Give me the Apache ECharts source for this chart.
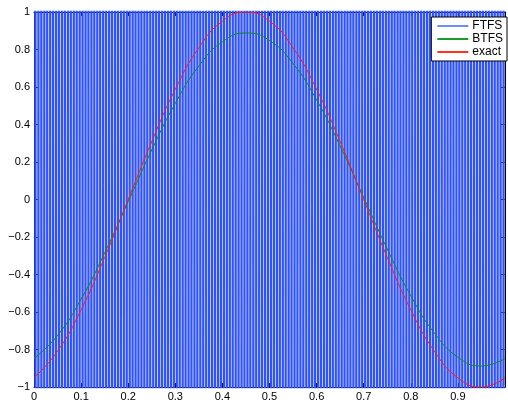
<!DOCTYPE html>
<html>
<head>
<meta charset="utf-8">
<script src="https://cdn.jsdelivr.net/npm/echarts@6/dist/echarts.min.js"></script>
<style>
  html, body { margin: 0; padding: 0; background: #fff; }
  #main { width: 508px; height: 402px; }
</style>
</head>
<body>
<div id="main"></div>
<script>
// x positions of the smooth curves (every 0.05)
var xCurve = [0, 0.05, 0.1, 0.15, 0.2, 0.25, 0.3, 0.35, 0.4, 0.45, 0.5,
  0.55, 0.6, 0.65, 0.7, 0.75, 0.8, 0.85, 0.9, 0.95, 1];
var btfs = [-0.848, -0.725, -0.531, -0.285, -0.011, 0.264, 0.513, 0.712, 0.841, 0.888, 0.848,
  0.725, 0.531, 0.285, 0.011, -0.264, -0.513, -0.712, -0.841, -0.888, -0.848];
var exact = [-0.951, -0.809, -0.588, -0.309, 0.0, 0.309, 0.588, 0.809, 0.951, 1.0, 0.951,
  0.809, 0.588, 0.309, 0.0, -0.309, -0.588, -0.809, -0.951, -1.0, -0.951];

// FTFS blows up: it jumps between huge values at every grid point (dx = 1/160)
var ftfsStep = 1 / 160;
var ftfs = [
  50, -50, 50, -50, 50, -50, 50, -50, 50, -50,
  50, -50, 50, -50, 50, -50, 50, -50, 50, -50,
  50, -50, 50, -50, 50, -50, 50, -50, 50, -50,
  50, -50, 50, -50, 50, -50, 50, -50, 50, -50,
  50, -50, 50, -50, 50, -50, 50, -50, 50, -50,
  50, -50, 50, -50, 50, -50, 50, -50, 50, -50,
  50, -50, 50, -50, 50, -50, 50, -50, 50, -50,
  50, -50, 50, -50, 50, -50, 50, -50, 50, -50,
  50, -50, 50, -50, 50, -50, 50, -50, 50, -50,
  50, -50, 50, -50, 50, -50, 50, -50, 50, -50,
  50, -50, 50, -50, 50, -50, 50, -50, 50, -50,
  50, -50, 50, -50, 50, -50, 50, -50, 50, -50,
  50, -50, 50, -50, 50, -50, 50, -50, 50, -50,
  50, -50, 50, -50, 50, -50, 50, -50, 50, -50,
  50, -50, 50, -50, 50, -50, 50, -50, 50, -50,
  50, -50, 50, -50, 50, -50, 50, -50, 50, -50,
  50
];

var xTicks = ['0', '0.1', '0.2', '0.3', '0.4', '0.5', '0.6', '0.7', '0.8', '0.9'];

function pairs(xs, ys) {
  var out = [];
  for (var i = 0; i < ys.length; i++) out.push([xs[i], ys[i]]);
  return out;
}

var ftfsData = [];
for (var i = 0; i < ftfs.length; i++) ftfsData.push([i * ftfsStep, ftfs[i]]);

var chart = echarts.init(document.getElementById('main'), null, { renderer: 'canvas' });

var fontFam = 'Liberation Sans, Arial, Helvetica, sans-serif';
var tickStyle = { show: true, inside: true, length: 4, lineStyle: { color: '#000', width: 1 } };

var option = {
  animation: false,
  backgroundColor: '#fff',
  grid: { left: 34, right: 0, top: 12, bottom: 14, containLabel: false },
  legend: {
    right: 1,
    top: 17,
    orient: 'vertical',
    backgroundColor: '#fff',
    borderColor: '#000',
    borderWidth: 1,
    borderRadius: 0,
    padding: [3, 4, 3, 6],
    itemGap: 1,
    itemWidth: 31,
    itemHeight: 2,
    icon: 'rect',
    textStyle: { fontFamily: fontFam, fontSize: 12, lineHeight: 12, color: '#000', padding: [0, 0, 0, -1] },
    data: ['FTFS', 'BTFS', 'exact']
  },
  xAxis: [{
    type: 'value', min: 0, max: 1, interval: 0.1,
    axisLine: { show: true, onZero: false, lineStyle: { color: '#000', width: 1 } },
    axisTick: tickStyle,
    splitLine: { show: false },
    axisLabel: {
      fontFamily: fontFam, fontSize: 11, color: '#000', margin: 4,
      formatter: function (v) {
        var k = Math.round(v * 10);
        return k < xTicks.length ? xTicks[k] : '';
      }
    }
  }, {
    type: 'value', min: 0, max: 1, interval: 0.1, position: 'top',
    axisLine: { show: true, onZero: false, lineStyle: { color: '#000', width: 1 } },
    axisTick: tickStyle,
    splitLine: { show: false },
    axisLabel: { show: false }
  }],
  yAxis: [{
    type: 'value', min: -1, max: 1, interval: 0.2,
    axisLine: { show: true, onZero: false, lineStyle: { color: '#000', width: 1 } },
    axisTick: tickStyle,
    splitLine: { show: false },
    axisLabel: {
      fontFamily: fontFam, fontSize: 11, color: '#000', margin: 4,
      formatter: function (v) {
        var s = (Math.round(v * 10) / 10).toString();
        return s.replace('-', '\u2212');
      }
    }
  }, {
    type: 'value', min: -1, max: 1, interval: 0.2, position: 'right',
    axisLine: { show: true, onZero: false, lineStyle: { color: '#000', width: 1 } },
    axisTick: tickStyle,
    splitLine: { show: false },
    axisLabel: { show: false }
  }],
  series: [{
    name: 'FTFS',
    type: 'line',
    data: ftfsData,
    showSymbol: false,
    clip: true,
    color: '#6f8cff',
    lineStyle: { color: '#2f52ff', width: 2.3 },
    z: 1
  }, {
    name: 'BTFS',
    type: 'line',
    data: pairs(xCurve, btfs),
    smooth: 0.5,
    showSymbol: false,
    color: '#1e9a2e',
    lineStyle: { color: '#0a8a1a', width: 1 },
    z: 3
  }, {
    name: 'exact',
    type: 'line',
    data: pairs(xCurve, exact),
    smooth: 0.5,
    showSymbol: false,
    color: '#ff3322',
    lineStyle: { color: '#ff1a1a', width: 1 },
    z: 4
  }]
};

chart.setOption(option);
</script>
</body>
</html>
